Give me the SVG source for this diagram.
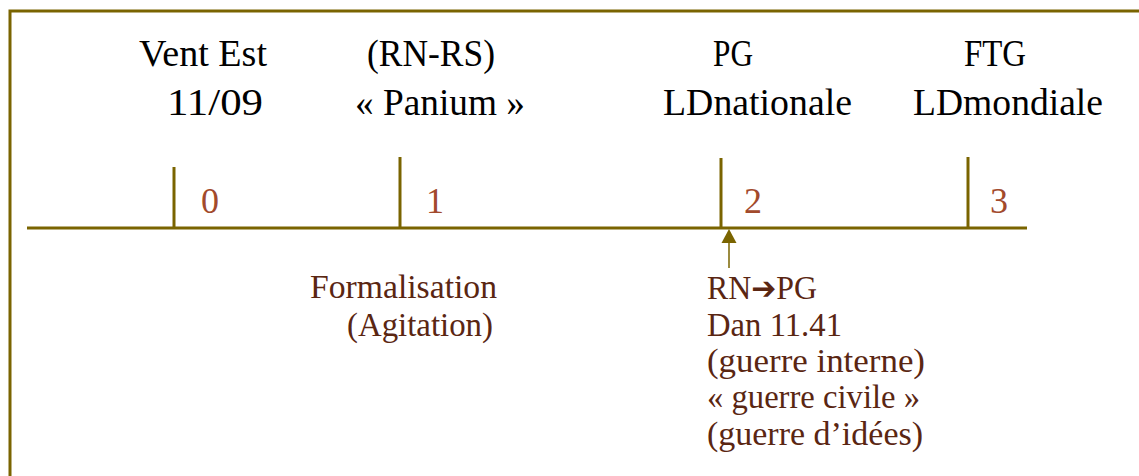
<svg xmlns="http://www.w3.org/2000/svg" width="1139" height="476" viewBox="0 0 1139 476">
<defs>
<style>
.top{font-family:"Liberation Serif",serif;font-size:37px;fill:#000}
.num{font-family:"Liberation Serif",serif;font-size:36px;fill:#a24a2c}
.low{font-family:"Liberation Serif",serif;font-size:33px;fill:#5a2612}
.ln{stroke:#7a6400;stroke-width:3;fill:none}
.arr{font-family:"DejaVu Sans",sans-serif;font-size:31px;font-weight:bold}
</style>
</defs>
<rect width="1139" height="476" fill="#fff"/>
<rect x="10" y="11" width="1200" height="500" class="ln"/>
<g id="axis">
<line x1="27" y1="228" x2="1027" y2="228" class="ln"/>
</g>
<g id="tick0">
<line x1="174" y1="167" x2="174" y2="228" class="ln"/>
<text class="num" x="201" y="213">0</text>
<text class="top" x="139" y="66" textLength="128" lengthAdjust="spacingAndGlyphs">Vent Est</text>
<text class="top" x="167" y="115" textLength="96" lengthAdjust="spacingAndGlyphs">11/09</text>
</g>
<g id="tick1">
<line x1="400" y1="157" x2="400" y2="228" class="ln"/>
<text class="num" x="426" y="213">1</text>
<text class="top" x="367" y="66" textLength="128" lengthAdjust="spacingAndGlyphs">(RN-RS)</text>
<text class="top" x="355" y="115" textLength="170" lengthAdjust="spacingAndGlyphs">« Panium »</text>
</g>
<g id="tick2">
<line x1="721" y1="158" x2="721" y2="228" class="ln"/>
<text class="num" x="744" y="213">2</text>
<text class="top" x="713" y="66" textLength="40" lengthAdjust="spacingAndGlyphs">PG</text>
<text class="top" x="663" y="115" textLength="189" lengthAdjust="spacingAndGlyphs">LDnationale</text>
</g>
<g id="tick3">
<line x1="968" y1="157" x2="968" y2="228" class="ln"/>
<text class="num" x="990" y="213">3</text>
<text class="top" x="964" y="66" textLength="62" lengthAdjust="spacingAndGlyphs">FTG</text>
<text class="top" x="913" y="115" textLength="190" lengthAdjust="spacingAndGlyphs">LDmondiale</text>
</g>
<g id="connectors">
<line x1="729" y1="268" x2="729" y2="242" stroke="#7a6400" stroke-width="1.5"/>
<polygon points="729,229 721.5,243 736.5,243" fill="#7a6400"/>
</g>
<g id="formalisation">
<text class="low" x="310" y="298" textLength="187" lengthAdjust="spacingAndGlyphs">Formalisation</text>
<text class="low" x="347" y="336" textLength="146" lengthAdjust="spacingAndGlyphs">(Agitation)</text>
</g>
<g id="guerre">
<text class="low" y="299" x="707" textLength="110" lengthAdjust="spacingAndGlyphs">RN<tspan class="arr">➔</tspan>PG</text>
<text class="low" x="707" y="336" textLength="135" lengthAdjust="spacingAndGlyphs">Dan 11.41</text>
<text class="low" x="707" y="372" textLength="218" lengthAdjust="spacingAndGlyphs">(guerre interne)</text>
<text class="low" x="707" y="408" textLength="213" lengthAdjust="spacingAndGlyphs">« guerre civile »</text>
<text class="low" x="707" y="445" textLength="216" lengthAdjust="spacingAndGlyphs">(guerre d’idées)</text>
</g>
</svg>
